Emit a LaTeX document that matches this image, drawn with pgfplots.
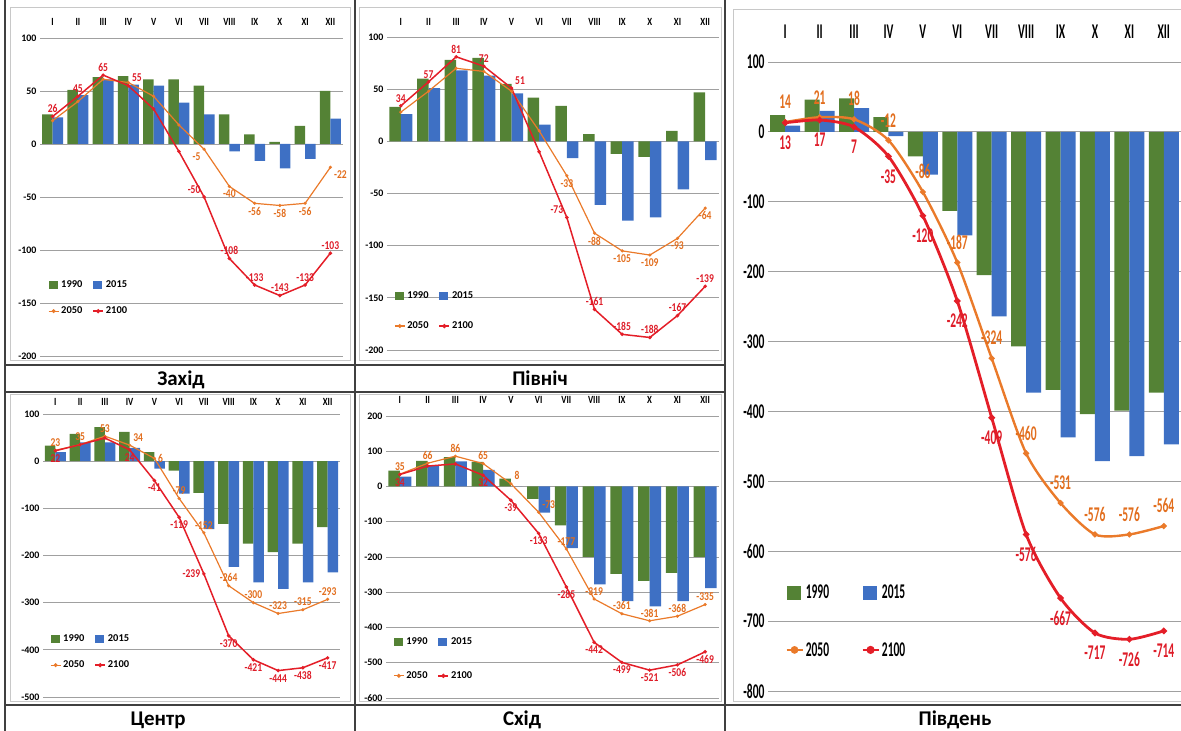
\documentclass[border=0pt]{standalone}
\usepackage{pgfplots}
\pgfplotsset{compat=1.18}
\usepackage{pgfplotstable}
\usepackage{fontspec}
\setmainfont{Carlito}
\newfontfamily\cs[FakeStretch=0.8]{Carlito}
\newfontfamily\cb[FakeStretch=0.55]{Carlito}

\definecolor{cG}{RGB}{84,130,53}
\definecolor{cB}{RGB}{62,112,196}
\definecolor{cO}{RGB}{234,122,42}
\definecolor{cR}{RGB}{228,30,40}
\definecolor{cOt}{RGB}{226,110,30}
\definecolor{cRt}{RGB}{222,28,40}
\definecolor{cGrid}{RGB}{160,160,160}
\definecolor{cFrame}{RGB}{200,200,200}

\newcommand{\fTick}{\bfseries\fontsize{10}{11}\selectfont}
\newcommand{\fMon}{\cs\bfseries\fontsize{11}{12}\selectfont}
\newcommand{\fLab}{\cs\bfseries\fontsize{12}{13}\selectfont}
\newcommand{\fLeg}{\bfseries\fontsize{10.5}{12}\selectfont}
\newcommand{\fBig}{\cb\bfseries\fontsize{21}{23}\selectfont}
\newcommand{\fTitle}{\bfseries\fontsize{21}{24}\selectfont}

% Захід
\pgfplotstableread{
x g b o r
1 28 25 22 26
2 51 46 40 45
3 63 61 61 65
4 64 56 58 55
5 61 55 45 33
6 61 39 18 -7
7 55 28 -5 -50
8 28 -7 -40 -108
9 9 -16 -56 -133
10 2 -23 -58 -143
11 17 -14 -56 -133
12 50 24 -22 -103
}\dZ
% Північ
\pgfplotstableread{
x g b o r
1 33 26 28 34
2 60 51 48 57
3 78 68 70 81
4 80 63 67 72
5 55 46 48 51
6 42 16 10 -10
7 34 -16 -33 -73
8 7 -61 -88 -161
9 -12 -76 -105 -185
10 -15 -73 -109 -188
11 10 -46 -93 -167
12 47 -18 -64 -139
}\dP
% Центр
\pgfplotstableread{
x g b o r
1 33 19 23 22
2 58 40 35 35
3 72 40 53 49
4 62 28 34 24
5 19 -16 6 -41
6 -20 -69 -79 -119
7 -67 -144 -152 -239
8 -133 -224 -264 -370
9 -175 -257 -300 -421
10 -193 -271 -323 -444
11 -175 -257 -315 -438
12 -140 -236 -293 -417
}\dC
% Схід
\pgfplotstableread{
x g b o r
1 45 28 35 34
2 73 58 66 58
3 83 71 86 64
4 70 47 65 32
5 22 0 8 -39
6 -35 -74 -73 -133
7 -110 -175 -177 -285
8 -200 -278 -319 -442
9 -248 -325 -361 -499
10 -268 -340 -381 -521
11 -245 -325 -368 -506
12 -200 -288 -335 -469
}\dS
% Південь
\pgfplotstableread{
x g b o r
1 24 9 14 13
2 46 30 21 17
3 48 34 18 7
4 21 -6 -12 -35
5 -35 -61 -86 -120
6 -113 -148 -187 -242
7 -205 -264 -324 -409
8 -307 -373 -460 -576
9 -369 -437 -531 -667
10 -404 -471 -576 -717
11 -399 -464 -576 -726
12 -373 -447 -564 -714
}\dJ

\pgfplotsset{
  panel/.style={
    scale only axis, clip=false,
    axis x line*=top, axis y line*=left,
    axis line style={draw=none},
    tick style={draw=none},
    xmin=0.5, xmax=12.5,
    xtick={1,...,12},
    xticklabels={I,II,III,IV,V,VI,VII,VIII,IX,X,XI,XII},
    ymajorgrids, grid style={color=cGrid, line width=0.9bp},
    legend columns=2,
    scaled y ticks=false,
    /pgf/number format/assume math mode=true,
  },
  small/.style={
    panel,
    yticklabel style={font=\fTick},
    legend style={draw=none, fill=none, font=\fLeg, anchor=north west,
      /tikz/every even column/.append style={column sep=8bp}},
  },
  big/.style={
    panel,
    yticklabel style={font=\fBig},
    xticklabel style={font=\fBig, yshift=20bp},
    legend style={draw=none, fill=none, font=\fBig, anchor=north west,
      /tikz/every even column/.append style={column sep=30bp}},
  },
}

% labels: anchor, colour, font, sep, coordinates
\newcommand{\lab}[5]{%
  \addplot[draw=none, mark=none, forget plot, point meta=explicit symbolic,
    nodes near coords,
    every node near coord/.append style={anchor=#1, font=#3, text=#2, inner sep=#4}]
    coordinates {#5};
}
\newcommand{\oS}[2]{\lab{#1}{cOt}{\fLab}{3.5bp}{#2}}
\newcommand{\rS}[2]{\lab{#1}{cRt}{\fLab}{3.5bp}{#2}}

\newcommand{\seriesS}[3]{%
  \addplot[ybar, bar width=#2, bar shift=-#3, fill=cG, draw=none,
    legend image code/.code={\fill[cG] (0bp,-4bp) rectangle (9bp,4bp);}]
    table[x=x, y=g]{#1};
  \addplot[ybar, bar width=#2, bar shift=#3, fill=cB, draw=none,
    legend image code/.code={\fill[cB] (0bp,-4bp) rectangle (9bp,4bp);}]
    table[x=x, y=b]{#1};
  \addplot[cO, line width=1.2bp, mark=*, mark size=0.9bp,
    legend image code/.code={\draw[cO, line width=1.2bp] (0bp,0bp) -- (10bp,0bp); \fill[cO] (5bp,0bp) circle (1.3bp);}]
    table[x=x, y=o]{#1};
  \addplot[cR, line width=1.5bp, mark=*, mark size=0.9bp,
    legend image code/.code={\draw[cR, line width=1.5bp] (0bp,0bp) -- (10bp,0bp); \fill[cR] (5bp,0bp) circle (1.3bp);}]
    table[x=x, y=r]{#1};
  \legend{1990,2015,2050,2100}
}

\begin{document}
\begin{tikzpicture}
\useasboundingbox (0bp,0bp) rectangle (1181bp,731bp);

% chart area frames
\draw[cFrame, line width=1bp] (10bp,370bp) rectangle (350bp,723bp);
\draw[cFrame, line width=1bp] (359bp,370bp) rectangle (721bp,723bp);
\draw[cFrame, line width=1bp] (10bp,29bp) rectangle (350bp,336bp);
\draw[cFrame, line width=1bp] (359bp,29bp) rectangle (721bp,336bp);
\draw[cFrame, line width=1bp] (733bp,29bp) rectangle (1185bp,721bp);

% Захід
\begin{axis}[small, at={(40bp,375bp)}, anchor=south west, width=303bp, height=318bp,
  ymin=-200, ymax=100, ytick={-200,-150,...,100},
  xticklabel style={font=\fMon, yshift=9bp},
  legend style={at={(0.016,0.25)}, row sep=14bp}]
  \seriesS{\dZ}{10.5bp}{5.25bp}
  \oS{north}{(8,-40)[-40] (9,-56)[-56] (10,-58)[-58] (11,-56)[-56]}
  \oS{north east}{(7,-5)[-5]}
  \oS{north west}{(12,-22)[-22]}
  \rS{south}{(1,26)[26] (2,45)[45] (3,65)[65] (8,-108)[-108] (9,-133)[-133] (10,-143)[-143] (11,-133)[-133] (12,-103)[-103]}
  \rS{south west}{(4,55)[55]}
  \rS{south east}{(7,-50)[-50]}
\end{axis}

% Північ
\begin{axis}[small, at={(387bp,381bp)}, anchor=south west, width=332bp, height=313bp,
  ymin=-200, ymax=100, ytick={-200,-150,...,100},
  xticklabel style={font=\fMon, yshift=8bp},
  legend style={at={(0.012,0.2)}, row sep=18bp}]
  \seriesS{\dP}{11.5bp}{5.75bp}
  \oS{north}{(7,-33)[-33] (8,-88)[-88] (9,-105)[-105] (10,-109)[-109] (11,-93)[-93] (12,-64)[-64]}
  \rS{south}{(1,34)[34] (2,57)[57] (3,81)[81] (4,72)[72] (8,-161)[-161] (9,-185)[-185] (10,-188)[-188] (11,-167)[-167] (12,-139)[-139]}
  \rS{south west}{(5,51)[51]}
  \rS{south east}{(7,-73)[-73]}
\end{axis}

% Центр
\begin{axis}[small, at={(43bp,34bp)}, anchor=south west, width=297bp, height=283bp,
  ymin=-500, ymax=100, ytick={-500,-400,...,100},
  xticklabel style={font=\fMon, yshift=5bp},
  legend style={at={(0.013,0.235)}, row sep=14bp}]
  \seriesS{\dC}{10.5bp}{5.25bp}
  \oS{south}{(1,23)[23] (2,35)[35] (3,53)[53] (6,-79)[-79] (7,-152)[-152] (8,-264)[-264] (9,-300)[-300] (10,-323)[-323] (11,-315)[-315] (12,-293)[-293]}
  \oS{south west}{(4,34)[34]}
  \oS{west}{(5,6)[6]}
  \rS{north}{(1,22)[22] (4,24)[24] (5,-41)[-41] (6,-119)[-119] (8,-370)[-370] (9,-421)[-421] (10,-444)[-444] (11,-438)[-438] (12,-417)[-417]}
  \rS{east}{(7,-239)[-239]}
\end{axis}

% Схід
\begin{axis}[small, at={(386bp,33bp)}, anchor=south west, width=333bp, height=282bp,
  ymin=-600, ymax=200, ytick={-600,-500,...,200},
  xticklabel style={font=\fMon, yshift=9bp},
  legend style={at={(0.012,0.23)}, row sep=22bp}]
  \seriesS{\dS}{11.5bp}{5.75bp}
  \oS{south}{(1,35)[35] (2,66)[66] (3,86)[86] (4,65)[65] (7,-177)[-177] (8,-319)[-319] (9,-361)[-361] (10,-381)[-381] (11,-368)[-368] (12,-335)[-335]}
  \oS{south west}{(5,8)[8] (6,-73)[-73]}
  \rS{north}{(1,34)[34] (4,32)[32] (5,-39)[-39] (6,-133)[-133] (7,-285)[-285] (8,-442)[-442] (9,-499)[-499] (10,-521)[-521] (11,-506)[-506] (12,-469)[-469]}
\end{axis}

% Південь
\begin{axis}[big, at={(768bp,40bp)}, anchor=south west, width=413bp, height=629bp,
  ymin=-800, ymax=100, ytick={-800,-700,...,100},
  legend style={at={(0.034,0.175)}, row sep=38bp}]
  \addplot[ybar, bar width=15bp, bar shift=-7.5bp, fill=cG, draw=none,
    legend image code/.code={\fill[cG] (0bp,-7bp) rectangle (14bp,7bp);}]
    table[x=x, y=g]{\dJ};
  \addplot[ybar, bar width=15bp, bar shift=7.5bp, fill=cB, draw=none,
    legend image code/.code={\fill[cB] (0bp,-7bp) rectangle (14bp,7bp);}]
    table[x=x, y=b]{\dJ};
  \addplot[cO, line width=2.4bp, smooth, tension=0.45, mark=*, mark size=1.6bp,
    legend image code/.code={\draw[cO, line width=2.6bp] (0bp,0bp) -- (16bp,0bp); \fill[cO] (8bp,0bp) circle (2.6bp);}]
    table[x=x, y=o]{\dJ};
  \addplot[cR, line width=2.8bp, smooth, tension=0.45, mark=*, mark size=1.6bp,
    legend image code/.code={\draw[cR, line width=2.8bp] (0bp,0bp) -- (16bp,0bp); \fill[cR] (8bp,0bp) circle (2.6bp);}]
    table[x=x, y=r]{\dJ};
  \legend{1990,2015,2050,2100}
  \lab{south}{cOt}{\fBig}{13bp}{(1,14)[14] (2,21)[21] (3,18)[18] (4,-12)[-12] (5,-86)[-86] (6,-187)[-187] (7,-324)[-324] (8,-460)[-460] (9,-531)[-531] (10,-576)[-576] (11,-576)[-576] (12,-564)[-564]}
  \lab{north}{cRt}{\fBig}{13bp}{(1,13)[13] (2,17)[17] (3,7)[7] (4,-35)[-35] (5,-120)[-120] (6,-242)[-242] (7,-409)[-409] (8,-576)[-576] (9,-667)[-667] (10,-717)[-717] (11,-726)[-726] (12,-714)[-714]}
\end{axis}

% table lines
\begin{scope}[line width=1.3bp, color=black!75]
  \draw (5bp,0bp) -- (5bp,731bp);
  \draw (355bp,0bp) -- (355bp,731bp);
  \draw (725bp,0bp) -- (725bp,731bp);
  \draw (5bp,366bp) -- (725bp,366bp);
  \draw (5bp,339bp) -- (725bp,339bp);
  \draw (5bp,26bp) -- (1181bp,26bp);
\end{scope}

% titles
\node[font=\fTitle, anchor=base] at (181bp,345bp) {Захід};
\node[font=\fTitle, anchor=base] at (540bp,345bp) {Північ};
\node[font=\fTitle, anchor=base] at (158bp,6bp) {Центр};
\node[font=\fTitle, anchor=base] at (522bp,6bp) {Схід};
\node[font=\fTitle, anchor=base] at (955bp,6bp) {Південь};
\end{tikzpicture}
\end{document}
